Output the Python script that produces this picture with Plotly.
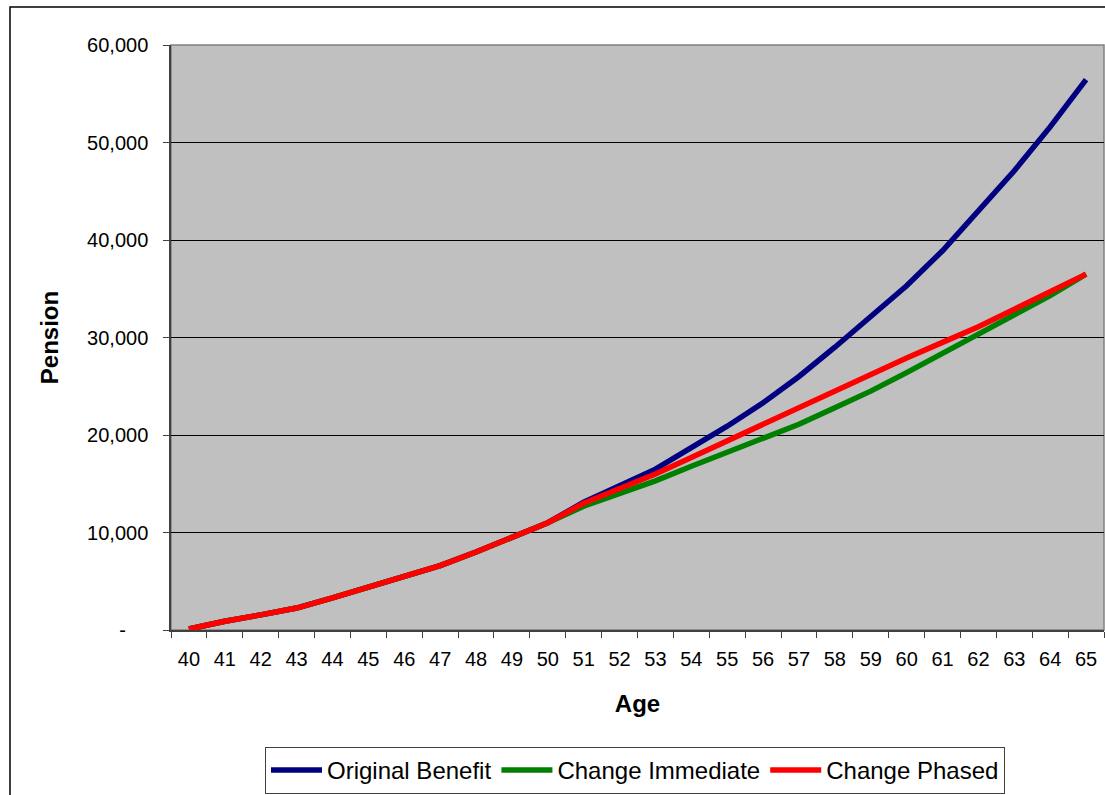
import plotly.graph_objects as go

# Age categories along the x axis
ages = [str(a) for a in range(40, 66)]

# Projected pension at each age, per scenario
original_benefit = [100, 900, 1550, 2250, 3300, 4400, 5500, 6600, 8000, 9450,
                    11000, 13100, 14800, 16500, 18700, 20900, 23300, 26000, 29000, 32100,
                    35300, 38900, 43000, 47100, 51600, 56450]
change_immediate = [100, 900, 1550, 2250, 3300, 4400, 5500, 6600, 8000, 9450,
                    11000, 12700, 14000, 15300, 16800, 18200, 19600, 21100, 22800, 24500,
                    26400, 28400, 30300, 32300, 34300, 36500]
change_phased = [100, 900, 1550, 2250, 3300, 4400, 5500, 6600, 8000, 9450,
                 11000, 13000, 14500, 16000, 17700, 19400, 21100, 22900, 24600, 26200,
                 27900, 29500, 31100, 32900, 34700, 36500]

# Y tick values and their accounting-style labels (zero shown as a dash)
y_tick_values = [0, 10000, 20000, 30000, 40000, 50000, 60000]
y_tick_labels = ["-\u00a0\u00a0\u00a0\u00a0", "10,000", "20,000", "30,000", "40,000", "50,000", "60,000"]

FONT = "Liberation Sans, Arial, sans-serif"

fig = go.Figure()
series = [
    ("Original Benefit", original_benefit, "#000080"),
    ("Change Immediate", change_immediate, "#008000"),
    ("Change Phased", change_phased, "#FF0000"),
]
for name, values, color in series:
    fig.add_trace(go.Scatter(
        x=ages, y=values, name=name, mode="lines",
        line=dict(color=color, width=5.5),
    ))

W, H = 1105, 795
L, R, T, B = 171, 1, 45, 165
pw = W - L - R
ph = H - T - B

fig.update_layout(
    width=W, height=H,
    margin=dict(l=L, r=R, t=T, b=B, autoexpand=False),
    paper_bgcolor="white",
    plot_bgcolor="#C0C0C0",
    font=dict(family=FONT, size=20, color="black"),
    showlegend=True,
    legend=dict(
        orientation="h",
        x=(265 - L) / pw, y=(H - B - 747) / ph,
        xanchor="left", yanchor="top",
        bgcolor="white", bordercolor="#404040", borderwidth=1,
        font=dict(family=FONT, size=24, color="black"),
        itemwidth=51,
        traceorder="normal",
    ),
    xaxis=dict(
        type="category",
        range=[-0.5, len(ages) - 0.5],
        showgrid=False,
        showline=True, linecolor="#404040", linewidth=1.5,
        ticks="outside", ticklen=6, tickcolor="#404040", tickwidth=1,
        tickson="boundaries",
        ticklabelstandoff=10,
        tickfont=dict(family=FONT, size=20, color="black"),
        title=dict(text="<b>Age</b>", font=dict(family=FONT, size=24, color="black"), standoff=26),
        zeroline=False,
        automargin=False,
    ),
    yaxis=dict(
        range=[0, 60000],
        tickvals=y_tick_values, ticktext=y_tick_labels,
        showgrid=True, gridcolor="black", gridwidth=1,
        showline=True, linecolor="#404040", linewidth=1.5,
        ticks="outside", ticklen=6, tickcolor="#404040", tickwidth=1,
        ticklabelstandoff=11,
        tickfont=dict(family=FONT, size=20, color="black"),
        title=dict(text="<b>Pension</b>", font=dict(family=FONT, size=24, color="black"), standoff=22),
        zeroline=False,
        automargin=False,
    ),
    shapes=[
        # grey frame on the plot area
        dict(type="rect", xref="paper", yref="paper", x0=0, x1=1, y0=0, y1=1,
             line=dict(color="#808080", width=1.5), layer="below"),
        # chart border
        dict(type="rect", xref="paper", yref="paper",
             x0=(10 - L) / pw, x1=(W + 20 - L) / pw,
             y0=(H - B - (H + 20)) / ph, y1=(H - B - 7) / ph,
             line=dict(color="black", width=1.5), fillcolor="rgba(0,0,0,0)"),
    ],
)

fig.write_html("out.html")
